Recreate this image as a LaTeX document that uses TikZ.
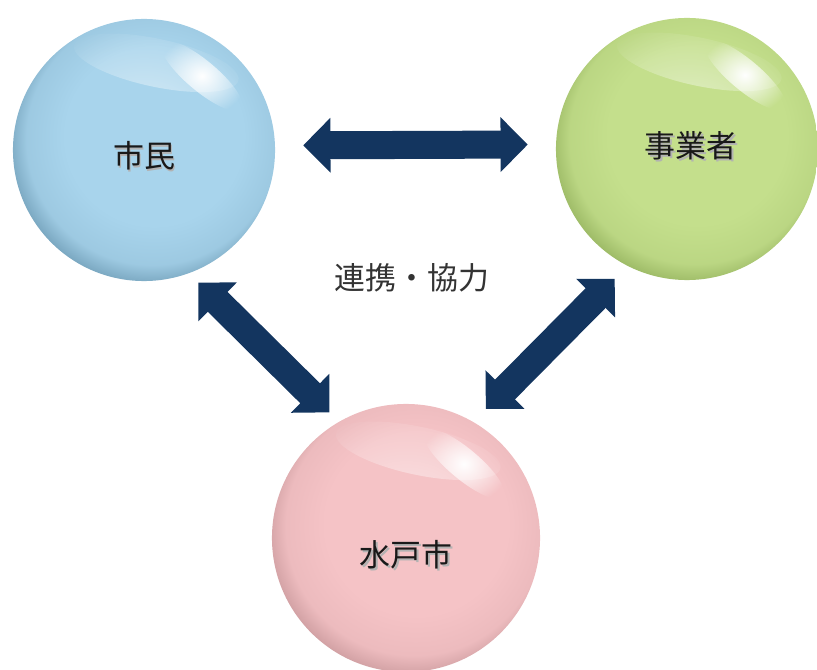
\documentclass[tikz,border=0pt]{standalone}
\usepackage{fontspec}
\setmainfont{Noto Sans CJK JP}
\usetikzlibrary{arrows.meta,fadings,calc}

\definecolor{arrownavy}{HTML}{13355F}
\definecolor{shiminblue}{HTML}{A8D4EC}
\definecolor{shiminrim}{HTML}{5E8CA6}
\definecolor{jigyogreen}{HTML}{C4DF8C}
\definecolor{jigyorim}{HTML}{86A550}
\definecolor{suitopink}{HTML}{F5C3C6}
\definecolor{suitorim}{HTML}{BC8C8F}

% ball shadings: flat centre, darker rim (most at the lower left)
\newcommand\ballshading[3]{%
  \pgfdeclareradialshading{#1}{\pgfpoint{3bp}{4bp}}{%
    color(0bp)=(#2); color(17bp)=(#2); color(24bp)=(#2!85!#3);
    color(30bp)=(#3); color(50bp)=(#3)}}
\ballshading{shiminball}{shiminblue}{shiminrim}
\ballshading{jigyoball}{jigyogreen}{jigyorim}
\ballshading{suitoball}{suitopink}{suitorim}

\tikzfading[name=glintfade, inner color=transparent!0, outer color=transparent!100]

% name on a ball, with a soft drop shadow
\newcommand\ballname[2][0pt]{\raisebox{#1}[0pt][0pt]{%
  \rlap{\kern1.3pt\raisebox{-1.3pt}{\color{black!30}#2}}#2}}

\begin{document}
\begin{tikzpicture}[x=0.025cm, y=-0.025cm]
  \tikzset{
    glint/.style={path picture={
      \fill[white, opacity=.7, path fading=glintfade]
        ($(path picture bounding box.center)+(82:2.2cm)$)
        ellipse [x radius=2.1cm, y radius=.6cm, rotate=-12];
      \fill[white, opacity=1, path fading=glintfade]
        ($(path picture bounding box.center)+(52:2.35cm)$)
        ellipse [x radius=1.3cm, y radius=.38cm, rotate=-40];
    }},
    ball/.style={circle, shade, inner sep=0pt, minimum size=6.55cm, glint,
      font=\fontsize{22pt}{26pt}\selectfont, text=black!90},
    link/.style={arrownavy, line width=0.7cm,
      {Triangle[width=1.33cm, length=0.68cm]}-{Triangle[width=1.33cm, length=0.68cm]}}
  }
  \useasboundingbox (0,0) rectangle (817,670);

  % the three partners
  \node[ball, shading=shiminball] (shimin) at (144,150) {\ballname[-12.7pt]{市民}};
  \node[ball, shading=jigyoball] (jigyo) at (687,149) {\ballname[-6.3pt]{\hspace{6pt}事業者}};
  \node[ball, shading=suitoball, minimum size=6.7cm] (suito) at (406,538) {\ballname[-20.4pt]{水戸市}};

  \node[font=\fontsize{22pt}{26pt}\selectfont, text=black!80] (renkei) at (412,278) {連携・協力};

  % arrows between them
  \draw[link, shorten <=0.7cm, shorten >=0.7cm] (shimin.2) -- (jigyo.178);
  \draw[link, shorten <=0.33cm, shorten >=0.33cm] (shimin.-70) -- (suito.120);
  \draw[link, shorten <=0.45cm, shorten >=0.45cm] (jigyo.-117) -- (suito.60);
\end{tikzpicture}
\end{document}
